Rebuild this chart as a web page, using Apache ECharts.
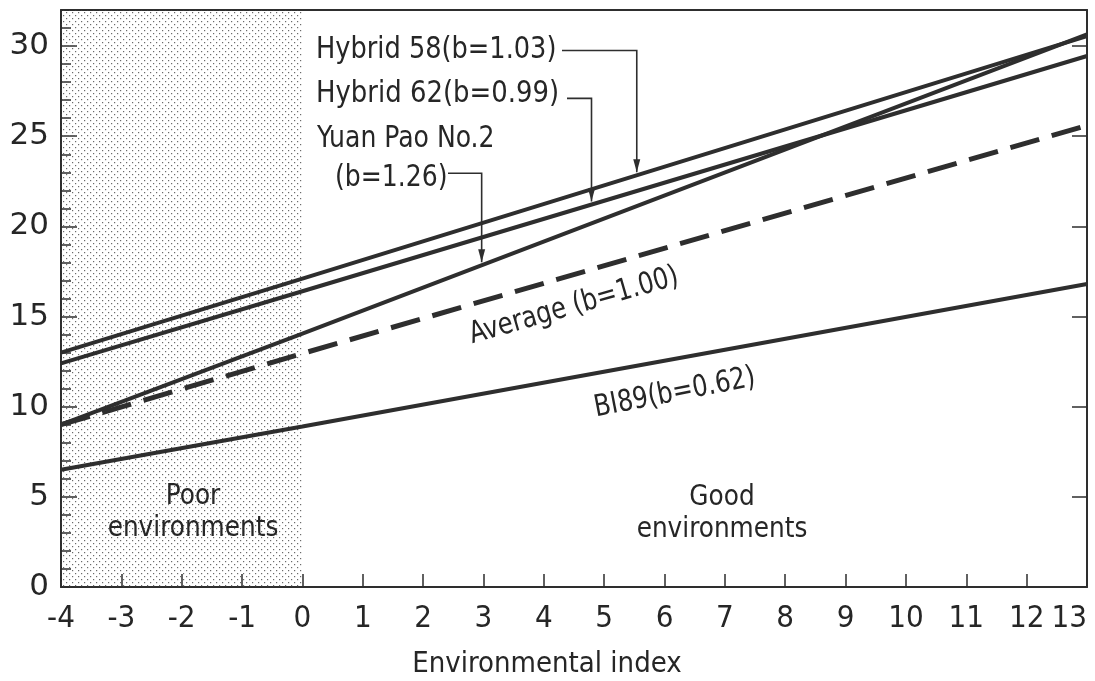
<!DOCTYPE html>
<html>
<head>
<meta charset="utf-8">
<script src="https://cdn.jsdelivr.net/npm/echarts@6/dist/echarts.min.js"></script>
<style>
  html, body { margin: 0; padding: 0; background: #ffffff; }
  #chart { width: 1095px; height: 681px; }
</style>
</head>
<body>
<div id="chart"></div>
<script>
// Environmental index (x) at which each regression line is given
const envIndex = [-4, 0, 13];

// Yield responses along the environmental index
const hybrid58 = [13.0, 17.1, 30.55];
const hybrid62 = [12.4, 16.4, 29.45];
const yuanPao2 = [9.0, 14.05, 30.65];
const average  = [9.0, 12.95, 25.6];
const b189     = [6.5, 8.9, 16.8];

// Axis tick values
const xTicks = [-4, -3, -2, -1, 0, 1, 2, 3, 4, 5, 6, 7, 8, 9, 10, 11, 12, 13];
const yTicks = [0, 5, 10, 15, 20, 25, 30];

// Series labels
const labelH58 = 'Hybrid 58(b=1.03)';
const labelH62 = 'Hybrid 62(b=0.99)';
const labelYP1 = 'Yuan Pao No.2';
const labelYP2 = '(b=1.26)';
const labelAvg = 'Average (b=1.00)';
const labelB189 = 'BI89(b=0.62)';
const xAxisTitle = 'Environmental index';

const INK = '#2e2e2e';
const TEXT = '#262626';
const NARROW = "'DejaVu Sans Condensed', 'Liberation Sans', sans-serif";
const WIDE = "'DejaVu Sans', 'Liberation Sans', sans-serif";

function pairs(ys) { return envIndex.map((x, i) => [x, ys[i]]); }

// value of a piecewise-linear series at x
function valueAt(ys, x) {
  for (let i = 0; i < envIndex.length - 1; i++) {
    const x0 = envIndex[i], x1 = envIndex[i + 1];
    if (x >= x0 && x <= x1) return ys[i] + (ys[i + 1] - ys[i]) * (x - x0) / (x1 - x0);
  }
  return ys[ys.length - 1];
}

// stipple used for the "poor environments" band
const stipple = document.createElement('canvas');
stipple.width = 6; stipple.height = 6;
(function () {
  const c = stipple.getContext('2d');
  c.fillStyle = '#6a6a6a';
  c.fillRect(0, 0, 1.2, 1.2);
  c.fillRect(3, 3, 1.2, 1.2);
})();

const chart = echarts.init(document.getElementById('chart'), null, { renderer: 'canvas' });

const lineSeries = (name, ys, extra) => Object.assign({
  name, type: 'line', data: pairs(ys), symbol: 'none', z: 4,
  lineStyle: { color: INK, width: 4 }, animation: false
}, extra || {});

const yBase = { type: 'value', min: 0, max: 32, splitLine: { show: false } };

chart.setOption({
  backgroundColor: '#ffffff',
  animation: false,
  grid: { left: 61, right: 8, top: 10, bottom: 94, outerBoundsMode: 'none', containLabel: false },
  xAxis: [{
    type: 'value', min: xTicks[0], max: xTicks[xTicks.length - 1], interval: 1,
    position: 'bottom',
    axisLine: { show: true, onZero: false, lineStyle: { color: INK, width: 2 } },
    axisTick: { show: true, inside: true, length: 13, lineStyle: { color: INK, width: 1.5 } },
    axisLabel: { fontFamily: NARROW, fontSize: 31, color: TEXT, margin: 16, alignMaxLabel: 'right',
      formatter: v => String(v) },
    splitLine: { show: false }
  }, {
    type: 'value', min: xTicks[0], max: xTicks[xTicks.length - 1], position: 'top',
    axisLine: { show: true, onZero: false, lineStyle: { color: INK, width: 2 } },
    axisTick: { show: false }, axisLabel: { show: false }, splitLine: { show: false }
  }],
  yAxis: [Object.assign({}, yBase, {
    interval: 5, position: 'left',
    axisLine: { show: true, onZero: false, lineStyle: { color: INK, width: 2 } },
    axisTick: { show: true, inside: true, length: 16, lineStyle: { color: INK, width: 1.5 } },
    axisLabel: { fontFamily: WIDE, fontSize: 31, color: TEXT, margin: 12, showMaxLabel: false,
      formatter: v => yTicks.includes(v) ? String(v) : '' }
  }), Object.assign({}, yBase, {
    interval: 1, position: 'left',
    axisLine: { show: false, onZero: false },
    axisTick: { show: true, inside: true, length: 10, lineStyle: { color: INK, width: 1.5 } },
    axisLabel: { show: false }
  }), Object.assign({}, yBase, {
    interval: 5, position: 'right',
    axisLine: { show: true, onZero: false, lineStyle: { color: INK, width: 2 } },
    axisTick: { show: true, inside: true, length: 15, lineStyle: { color: INK, width: 1.5 } },
    axisLabel: { show: false }
  })],
  series: [
    {
      name: 'band', type: 'line', data: [], z: 1, silent: true,
      markArea: {
        silent: true,
        itemStyle: { color: { image: stipple, repeat: 'repeat' } },
        data: [[{ xAxis: -4 }, { xAxis: 0 }]]
      }
    },
    lineSeries('Hybrid 58', hybrid58),
    lineSeries('Hybrid 62', hybrid62),
    lineSeries('Yuan Pao No.2', yuanPao2),
    lineSeries('Average', average, { lineStyle: { color: INK, width: 5, type: [30, 13] } }),
    lineSeries('BI89', b189)
  ]
});

// ---- annotations: labels and callout arrows ----
const px = (x, y) => chart.convertToPixel({ gridIndex: 0 }, [x, y]);

function callout(startPx, levelY, targetX, ys) {
  const corner = px(targetX, levelY);
  const tip = px(targetX, valueAt(ys, targetX));
  const tipY = tip[1] - 3;
  return [{
    type: 'polyline', z: 10, silent: true,
    shape: { points: [[startPx, corner[1]], [corner[0], corner[1]], [corner[0], tipY]] },
    style: { stroke: INK, lineWidth: 1.6, fill: null }
  }, {
    type: 'polygon', z: 10, silent: true,
    shape: { points: [[corner[0] - 3.5, tipY - 13], [corner[0] + 3.5, tipY - 13], [corner[0], tipY]] },
    style: { fill: INK }
  }];
}

function text(str, x, y, size, opts) {
  opts = opts || {};
  return Object.assign({
    type: 'text', x, y, z: 10, silent: true, scaleX: 0.9,
    style: Object.assign({ text: str, fontFamily: NARROW, fontSize: size, fill: TEXT,
      align: 'left', verticalAlign: 'middle' }, opts.style || {})
  }, opts.el || {});
}

const avgC = px(4.5, valueAt(average, 4.5) - 1.75);
const b189C = px(6.17, valueAt(b189, 6.17) - 1.9);

const graphics = [
  text(labelH58, 316, 50, 31, { el: { scaleX: 0.92 } }),
  text(labelH62, 316, 94, 31, { el: { scaleX: 0.93 } }),
  text(labelYP1, 317, 139, 31),
  text(labelYP2, 335, 178, 31),
  text(labelAvg, avgC[0], avgC[1], 30, { style: { align: 'center' }, el: { rotation: 16 * Math.PI / 180 } }),
  text(labelB189, b189C[0], b189C[1], 30, { style: { align: 'center' }, el: { rotation: 11 * Math.PI / 180 } }),
  text('Poor', 193, 496, 29, { style: { align: 'center' }, el: { scaleX: 0.95 } }),
  text('environments', 193, 528, 29, { style: { align: 'center' }, el: { scaleX: 0.95 } }),
  text('Good', 722, 497, 29, { style: { align: 'center' }, el: { scaleX: 0.95 } }),
  text('environments', 722, 529, 29, { style: { align: 'center' }, el: { scaleX: 0.95 } }),
  text(xAxisTitle, 547, 664, 29, { style: { align: 'center' }, el: { scaleX: 1 } })
]
  .concat(callout(562, 29.75, 5.54, hybrid58))
  .concat(callout(567, 27.1, 4.79, hybrid62))
  .concat(callout(448, 22.95, 2.97, yuanPao2));

chart.setOption({ graphic: { elements: graphics } });
</script>
</body>
</html>
